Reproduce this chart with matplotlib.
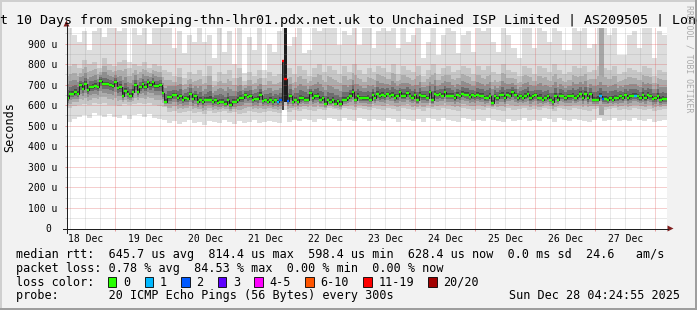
import numpy as np
import matplotlib
matplotlib.use('Agg')
import matplotlib.pyplot as plt
from matplotlib.patches import Rectangle, Polygon
from matplotlib.lines import Line2D

plt.rcParams['font.family'] = 'DejaVu Sans Mono'

# --- data -------------------------------------------------------------
# hourly median rtt (us), 240 steps from Dec 18 04:25 to Dec 28 04:25
median_rtt = [
    635, 656, 656, 663, 656, 700, 679, 705, 672, 689,
    689, 695, 689, 720, 702, 702, 702, 698, 692, 715,
    682, 689, 646, 669, 656, 646, 663, 700, 666, 689,
    702, 689, 711, 698, 711, 692, 692, 697, 659, 617,
    638, 638, 651, 651, 633, 643, 624, 633, 630, 656,
    630, 643, 614, 627, 614, 627, 624, 627, 614, 624,
    611, 617, 617, 606, 624, 601, 617, 617, 627, 633,
    633, 651, 640, 643, 624, 630, 630, 650,
    619, 627, 617, 624, 614, 624, 614, 627, 814, 726, 622,
    643, 614, 627, 614, 633, 633, 627, 627, 659, 633,
    643, 643, 624, 633, 607, 624, 614, 624, 607, 619,
    604, 624, 624, 633, 646, 663, 627, 646, 633, 633,
    633, 633, 627, 651, 633, 656, 643, 651, 643, 656,
    646, 651, 637, 646, 663, 643, 643, 659, 646, 637,
    651, 624, 651, 643, 643, 633, 666, 624, 656, 651,
    656, 646, 666, 646, 646, 646, 633, 651, 643, 656,
    651,
    650, 640, 650, 643, 650, 643, 646, 633, 633, 646,
    611, 643, 633, 650, 650, 633, 650, 646, 663, 650,
    633, 643, 633, 643, 656, 633, 643, 650, 633, 637,
    627, 633, 643, 627, 614, 643, 624, 646, 646, 633,
    643, 643, 646, 633, 643, 656, 633, 656, 633, 656,
    627, 627, 627, 646, 630, 630, 624, 633, 627, 633,
    633, 643, 633, 650, 633, 643, 646, 646, 643, 633,
    650, 633, 650, 643, 630, 633, 646, 624, 630, 628,
]

# lost pings (of 20) for the hours that had loss
loss_hours = [84, 85, 86, 87, 88, 213, 214, 227]
loss_pings = [1, 2, 17, 14, 2, 1, 2, 1]

# smoke (2 hour steps): max ping, upper/lower edge of inner cloud, min ping
smoke_top = [
    975, 940, 910, 960, 870, 960, 975, 930, 975, 975,
    960, 975, 812, 975, 940, 975, 900, 975, 975, 975,
    975, 880, 960, 855, 942, 909, 975, 909, 940, 830,
    975, 860, 960, 800, 975, 757, 930, 870, 975, 772,
    900, 860, 960, 975, 890, 930, 975, 855, 870, 975,
    960, 975, 975, 975, 893, 960, 942, 975, 893, 975,
    975, 877, 960, 975, 960, 975, 877, 975, 909, 942,
    975, 830, 909, 975, 844, 942, 975, 960, 855, 942,
    960, 860, 975, 960, 975, 909, 860, 975, 940, 880,
    830, 975, 975, 880, 975, 960, 909, 975, 960, 870,
    870, 975, 960, 975, 877, 900, 975, 975, 942, 975,
    844, 844, 942, 960, 877, 975, 975, 830, 960, 942,
]
smoke_hi = [
    790, 800, 780, 820, 800, 810, 780, 830, 800, 790,
    810, 820, 780, 800, 790, 810, 780, 800, 790, 770,
    760, 740, 780, 730, 760, 750, 770, 740, 790, 720,
    760, 750, 770, 730, 780, 720, 760, 740, 770, 730,
    760, 740, 750, 815, 780, 750, 790, 770, 740, 780,
    800, 760, 790, 770, 750, 790, 760, 800, 770, 750,
    780, 760, 790, 780, 760, 800, 750, 790, 770, 760,
    790, 740, 770, 800, 750, 780, 790, 760, 770, 790,
    780, 750, 790, 770, 790, 760, 750, 800, 770, 760,
    740, 790, 780, 750, 790, 780, 760, 800, 770, 750,
    760, 790, 780, 790, 760, 770, 790, 780, 770, 790,
    750, 760, 780, 770, 760, 790, 780, 740, 770, 760,
]
smoke_lo = [
    585, 595, 600, 605, 600, 610, 605, 610, 600, 600,
    595, 605, 600, 605, 610, 605, 610, 600, 595, 590,
    565, 570, 560, 565, 570, 560, 565, 555, 570, 560,
    565, 570, 560, 565, 555, 560, 570, 565, 560, 565,
    570, 565, 560, 600, 565, 575, 570, 580, 575, 570,
    580, 575, 585, 580, 575, 585, 580, 575, 585, 580,
    575, 585, 580, 575, 585, 580, 570, 585, 580, 575,
    580, 570, 585, 580, 575, 585, 580, 575, 570, 585,
    580, 575, 580, 575, 585, 580, 575, 570, 585, 575,
    580, 585, 575, 580, 575, 585, 580, 570, 585, 580,
    575, 585, 580, 575, 570, 580, 585, 575, 580, 585,
    575, 580, 575, 585, 580, 575, 580, 570, 575, 580,
]
smoke_bot = [
    520, 535, 545, 550, 540, 560, 550, 545, 555, 545,
    540, 550, 535, 550, 555, 545, 555, 540, 535, 530,
    515, 525, 510, 520, 530, 515, 520, 505, 525, 520,
    515, 530, 520, 510, 525, 515, 520, 530, 515, 520,
    525, 520, 515, 577, 520, 530, 525, 535, 530, 520,
    535, 530, 540, 535, 525, 540, 530, 525, 540, 535,
    525, 535, 530, 525, 540, 535, 520, 535, 530, 525,
    535, 520, 540, 535, 525, 540, 530, 525, 520, 540,
    535, 525, 530, 525, 540, 530, 525, 520, 535, 525,
    530, 540, 525, 530, 525, 540, 535, 520, 540, 530,
    525, 535, 530, 525, 520, 530, 540, 525, 530, 540,
    525, 530, 525, 540, 530, 525, 535, 520, 525, 530,
]

# high-loss hours where only a few pings came back
spike_hours = [86, 87]
spike_lo = [577, 617]
spike_hi = [815, 975]
gray_hours = [213, 214]
gray_lo = [552, 552]
gray_hi = [975, 975]

loss_levels = [0, 1, 2, 3, 5, 10, 19, 20]
loss_labels = ['0', '1', '2', '3', '4-5', '6-10', '11-19', '20/20']
loss_colors = ['#26ff00', '#00b8ff', '#0059ff', '#5e00ff', '#ff00ff',
               '#ff5500', '#ff0000', '#a10000']

day_labels = ['18 Dec', '19 Dec', '20 Dec', '21 Dec', '22 Dec',
              '23 Dec', '24 Dec', '25 Dec', '26 Dec', '27 Dec']

rtt_avg, rtt_max, rtt_min, rtt_now, rtt_sd, am_s = 645.7, 814.4, 598.4, 628.4, 0.0, 24.6
loss_avg, loss_max, loss_min, loss_now = 0.78, 84.53, 0.00, 0.00
title = ('Last 10 Days from smokeping-thn-lhr01.pdx.net.uk to '
         'Unchained ISP Limited | AS209505 | London')
probe = '20 ICMP Echo Pings (56 Bytes) every 300s'
stamp = 'Sun Dec 28 04:24:55 2025'

# --- figure -----------------------------------------------------------
W, H = 697, 310
def fx(x):
    return x / W
def fy(y):
    return 1 - y / H

fig = plt.figure(figsize=(W / 100, H / 100), dpi=100, facecolor='#f2f2f2')
X0, X1, YB, YT = 66.5, 666.5, 228.5, 26.5
ax = fig.add_axes([fx(X0), fy(YB), (X1 - X0) / W, (YB - YT) / H])
ax.set_facecolor('white')
for s in ax.spines.values():
    s.set_visible(False)

start_h = 4 + 25 / 60   # hours since Dec 18 00:00
span_h = 240
YMAX = 983

med = np.array(median_rtt, dtype=float)
n_med = len(med)
med_edges = start_h + np.arange(n_med + 1) * span_h / n_med
loss = np.zeros(n_med)
loss[loss_hours] = loss_pings

top = np.array(smoke_top, float)
hi = np.array(smoke_hi, float)
lo = np.array(smoke_lo, float)
bot = np.array(smoke_bot, float)
n_sm = len(top)
sm_edges = start_h + np.arange(n_sm + 1) * span_h / n_sm

def ext(a):
    return np.append(a, a[-1])

ax.fill_between(sm_edges, ext(bot), ext(top), step='post', color='#dddddd', lw=0, zorder=1)
ax.fill_between(sm_edges, ext(lo), ext(hi), step='post', color='#c6c6c6', lw=0, zorder=1.1)

ax.bar(med_edges[gray_hours], np.array(gray_hi) - np.array(gray_lo), bottom=gray_lo,
       width=span_h / n_med, align='edge', color='#a6a6a6', lw=0, zorder=1.2)

# darker shades of the cloud towards the median
idx = np.minimum((np.arange(n_med) * n_sm) // n_med, n_sm - 1)
lo_h, hi_h = lo[idx], hi[idx]
for f, c in zip([0.3, 0.55, 0.75, 0.9], ['#acacac', '#8e8e8e', '#6c6c6c', '#474747']):
    a = lo_h + (med - lo_h) * f
    b = hi_h - (hi_h - med) * f
    ax.fill_between(med_edges, ext(a), ext(b), step='post', color=c, lw=0, zorder=1.3)

ax.bar(med_edges[spike_hours], np.array(spike_hi) - np.array(spike_lo), bottom=spike_lo,
       width=span_h / n_med, align='edge', color=['#4a4a4a', '#1c1c1c'], lw=0, zorder=1.5)

# grid (dotted)
grid_c = (0.56, 0.56, 0.56, 0.4)
mgrid_c = (0.87, 0.31, 0.31, 0.55)
dot = dict(lw=0.72, ls=(0, (1, 1)))
for h in range(6, 246, 6):
    if h % 24:
        ax.axvline(h, color=grid_c, zorder=2, **dot)
for v in range(50, 1000, 100):
    ax.axhline(v, color=grid_c, zorder=2, **dot)
midnights = list(range(24, 241, 24))
for h in midnights:
    ax.axvline(h, color=mgrid_c, zorder=2.1, **dot)
for v in range(100, 1000, 100):
    ax.axhline(v, color=mgrid_c, zorder=2.1, **dot)

# median
ax.step(med_edges, ext(med), where='post', color='#202020', lw=0.7, zorder=3)

def loss_color(n):
    for lvl, c in zip(loss_levels, loss_colors):
        if n <= lvl:
            return c
    return loss_colors[-1]

ax.hlines(med, med_edges[:-1], med_edges[1:], colors=[loss_color(n) for n in loss],
          lw=1.7, capstyle='butt', zorder=4)

ax.set_xlim(start_h, start_h + span_h)
ax.set_ylim(0, YMAX)
ax.set_xticks([12 + 24 * i for i in range(len(day_labels))], day_labels)
ax.set_xticks(midnights, minor=True)
ax.tick_params(axis='x', which='major', length=0, pad=3.7, labelsize=7)
ax.tick_params(axis='x', which='minor', length=1.44, width=0.72, color=mgrid_c)
ax.set_yticks(range(0, 1000, 100), ['0 '] + [f'{v} u' for v in range(100, 1000, 100)])
ax.set_yticks(range(50, 1000, 100), minor=True)
ax.tick_params(axis='y', which='major', length=1.44, width=0.72, color=mgrid_c, pad=5.0, labelsize=7)
ax.tick_params(axis='y', which='minor', length=1.44, width=0.72, color=grid_c)

# axes with arrows
axis_c, arrow_c = '#1f1f1f', '#801f1f'
fig.add_artist(Line2D([fx(62.5), fx(668)], [fy(YB), fy(YB)], color=axis_c, lw=0.72))
fig.add_artist(Line2D([fx(X0), fx(X0)], [fy(232.5), fy(25)], color=axis_c, lw=0.72))
fig.add_artist(Polygon([[fx(673.5), fy(YB)], [fx(667.5), fy(YB - 3)], [fx(667.5), fy(YB + 3)]],
                       closed=True, color=arrow_c, lw=0))
fig.add_artist(Polygon([[fx(X0), fy(20.5)], [fx(X0 - 3), fy(26.5)], [fx(X0 + 3), fy(26.5)]],
                       closed=True, color=arrow_c, lw=0))

# frame
fig.add_artist(Rectangle((0, fy(2)), 1, 2 / H, color='#cfcfcf', lw=0))
fig.add_artist(Rectangle((0, 0), 2 / W, 1, color='#cfcfcf', lw=0))
fig.add_artist(Rectangle((0, 0), 1, 2 / H, color='#9e9e9e', lw=0))
fig.add_artist(Rectangle((fx(695), 0), 2 / W, 1, color='#9e9e9e', lw=0))

# texts
fig.text(fx(348.5), fy(24), title, ha='center', va='baseline', fontsize=9.6)
fig.text(fx(9.5), fy(127.5), 'Seconds', rotation=90, ha='center', va='center', fontsize=8.5)
fig.text(fx(688.5), fy(5), 'RRDTOOL / TOBI OETIKER', rotation=270, ha='center', va='top',
         fontsize=5.9, color='#ababab')

CW = 7.1
row1 = (f'median rtt:  {rtt_avg:.1f} us avg  {rtt_max:.1f} us max  {rtt_min:.1f} us min  '
        f'{rtt_now:.1f} us now  {rtt_sd:.1f} ms sd  {am_s:.1f}   am/s')
row2 = (f'packet loss: {loss_avg:.2f} % avg  {loss_max:.2f} % max  '
        f'{loss_min:.2f} % min  {loss_now:.2f} % now')
fig.text(fx(16), fy(258.3), row1, va='baseline', fontsize=8.5)
fig.text(fx(16), fy(272), row2, va='baseline', fontsize=8.5)
fig.text(fx(16), fy(285.7), 'loss color:', va='baseline', fontsize=8.5)
bx = 108
for lab, c in zip(loss_labels, loss_colors):
    fig.add_artist(Rectangle((fx(bx), fy(286.5)), 8.4 / W, 10 / H, facecolor=c,
                             edgecolor='black', lw=0.6))
    fig.text(fx(bx + 15.3), fy(285.7), lab, va='baseline', fontsize=8.5)
    bx = bx + 15.3 + (len(lab) + 2) * CW
fig.text(fx(16), fy(299.3), 'probe:       ' + probe, va='baseline', fontsize=8.5)
fig.text(fx(680), fy(299.3), stamp, ha='right', va='baseline', fontsize=8.5)

fig.savefig('out.png', dpi=100, facecolor=fig.get_facecolor())
